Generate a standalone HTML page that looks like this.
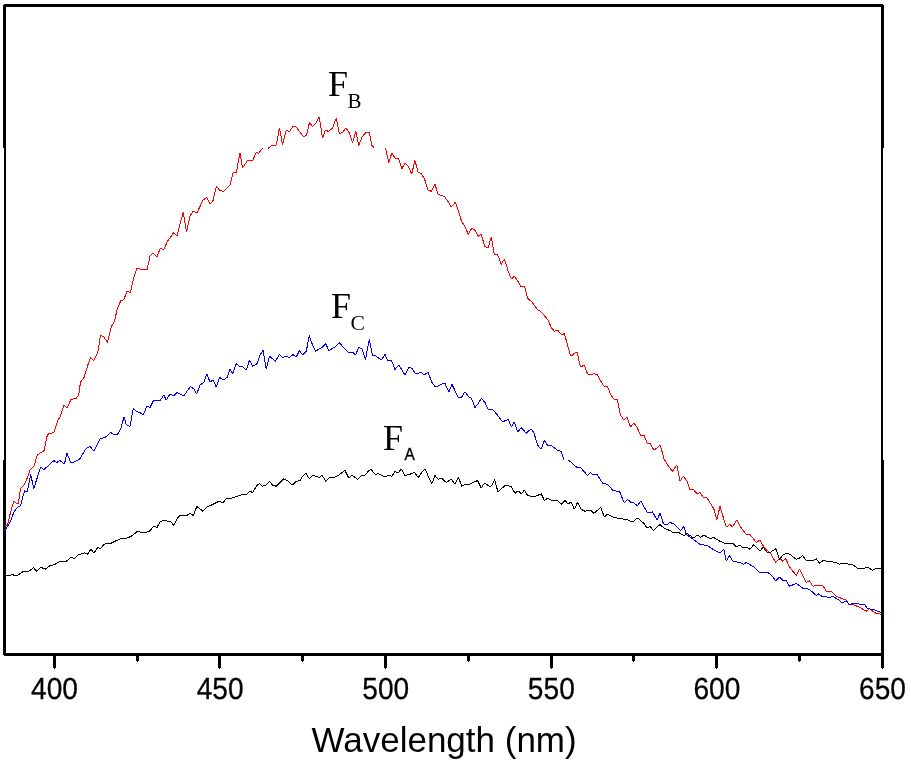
<!DOCTYPE html>
<html><head><meta charset="utf-8"><title>Spectrum</title>
<style>
html,body{margin:0;padding:0;background:#fff;}
body{width:911px;height:767px;overflow:hidden;}
svg{display:block;}
.tl{font-family:"Liberation Sans",Arial,sans-serif;font-size:30.5px;text-rendering:geometricPrecision;fill:#000;stroke:#000;stroke-width:0.3px;}
.ax{font-family:"Liberation Sans",Arial,sans-serif;font-size:35px;fill:#000;}
.F{font-family:"Liberation Serif","Times New Roman",serif;font-size:36px;fill:#000;}
.sub{font-family:"Liberation Serif","Times New Roman",serif;font-size:20px;fill:#000;}
.subA{font-family:"Liberation Sans",Arial,sans-serif;font-size:17px;fill:#000;stroke:#000;stroke-width:0.35px;}
</style></head>
<body>
<svg width="911" height="767" viewBox="0 0 911 767">
<rect width="911" height="767" fill="#fff"/>
<g fill="#000" shape-rendering="crispEdges">
<rect x="4" y="4" width="879" height="1"/><rect x="3" y="5" width="881" height="2"/>
<rect x="3" y="653" width="881" height="2"/><rect x="4" y="655" width="880" height="1"/>
<rect x="3" y="5" width="3" height="143"/>
<rect x="4" y="148" width="2" height="312"/>
<rect x="3" y="460" width="3" height="195"/>
<rect x="881" y="5" width="3" height="143"/>
<rect x="881" y="148" width="2" height="312"/>
<rect x="881" y="460" width="3" height="196"/>
<rect x="53" y="656" width="3" height="12"/><rect x="54" y="668" width="1" height="1"/>
<rect x="218" y="656" width="3" height="12"/><rect x="219" y="668" width="1" height="1"/>
<rect x="384" y="656" width="3" height="12"/><rect x="385" y="668" width="1" height="1"/>
<rect x="550" y="656" width="3" height="12"/><rect x="551" y="668" width="1" height="1"/>
<rect x="715" y="656" width="3" height="12"/><rect x="716" y="668" width="1" height="1"/>
<rect x="881" y="656" width="3" height="12"/><rect x="882" y="668" width="1" height="1"/>
<rect x="136" y="656" width="3" height="5"/><rect x="137" y="661" width="1" height="1"/>
<rect x="301" y="656" width="3" height="5"/><rect x="302" y="661" width="1" height="1"/>
<rect x="467" y="656" width="3" height="5"/><rect x="468" y="661" width="1" height="1"/>
<rect x="632" y="656" width="3" height="5"/><rect x="633" y="661" width="1" height="1"/>
<rect x="798" y="656" width="3" height="5"/><rect x="799" y="661" width="1" height="1"/>
</g>
<g shape-rendering="crispEdges" stroke-linejoin="bevel">
<polyline fill="none" stroke="#f00" stroke-width="1" points="4.5,526.3 7.5,525 10.5,512.5 13.8,501.3 16.3,503 18.3,503.8 20.5,488.8 24.5,484.3 27.5,477.5 30,470 33.8,466.5 37.3,455.3 40,453 44,450.7 47.5,434.3 53.7,432.5 58,420 60,417 63.8,405.3 67.2,407.7 71,399.5 76.3,398.3 78.8,394.5 80.5,382 83.8,378.3 88,364.5 90.5,357.5 93.8,360.8 98,351.5 100.5,335 103.8,337 107.5,342.5 111.3,327 114.5,320.8 117.5,308.3 120.8,300.8 123.8,299.5 127,291.5 130.3,292.5 133.8,278 137,268 141.3,269.3 147,270 150,256.3 153.3,253 157,257 160,248.8 163.8,249.3 167.5,241.3 173.8,232.5 177,236.3 180,223.8 183.3,212.5 186.5,232 190,216.3 193,211.3 197,213 203,200 206.8,197.5 210,204.3 213,200.5 216.3,186.3 220,190.5 223.8,191.3 230,185 233,173 236.3,172.5 240,153 242.5,168 247.5,160.5 253,160 256.3,152 258.8,153.3 262.5,148.3"/>
<polyline fill="none" stroke="#f00" stroke-width="1" points="268,148.3 272.5,145 276.3,145 279.5,128 282.5,144.5 286.3,130 289.3,132 292.5,127 295.5,126.3 299.5,131.3 303,136.3 306.3,135.8 309.5,122.5 312.5,126.3 316.3,122.5 319.3,117 322.5,138 325.3,130.5 328.8,131.3 332.5,128 336.3,118 339.3,133.8 342.5,132.5 345.8,128 349.5,133 352.5,143 355.8,131.3 358.8,145.5 362,137 365.5,133 369.3,132 371.8,145.5 373.8,147.5"/>
<polyline fill="none" stroke="#f00" stroke-width="1" points="385.5,148 388.8,162.5 391.8,153 395,158 398.3,158 401.8,168.8 405,163 408.3,166.3 411.8,174.3 414.8,160 418,171.8 421.3,173.8 424.5,178.8 428,190 431.3,191.3 435,184.5 438.3,194.5 444.3,196.3 447.5,200.8 451.3,207 455.5,202 458.8,212.5 461.3,220.5 465,227 468.3,234.5 471.8,228 475,230.5 478.3,236.3 481.3,233.8 484.5,246.3 488,248 491.3,237 494.3,254.5 497.5,254.5 501.3,264.3 504.5,258.8 508,270.8 511.3,279 514.4,276.3 518.3,281.8 520.8,287 524.5,286.3 527.5,298.3 531.3,301.3 538,310 541.3,312 548,320 551.3,327.5 554.5,331.3 557.5,330 561.3,334.5 564.5,333.8 567.5,345 570.8,356.3 573.8,353.8 577,352 580.5,367 584.3,365 587.5,373.8 590.5,375 593.8,373.8 597,374.3 600.8,381.3 604.3,386.8 607.5,386.3 610.8,395 614.3,399.5 617.5,400 620.5,415 623.8,420 627,416.8 630.5,427 633.8,423 637,427 640.5,435.5 643.8,435 647.5,443.8 650,443 653.8,450 657,448 660.3,445 663.8,458.4 667.5,465 672.5,471.3 676.8,465 680,481.3 683.3,476.3 687,481.3 690,489.5 693.8,490 697,493.8 700,492.5 703.8,498 706.8,497.5 713.8,508.8 716.8,520 720,506.3 723.3,517.5 726.3,527 730,524.5 732.5,527 736.8,520 740,526.3 746.3,534.5 750,534.5 756.3,542.5 760,540 763,545.5 766.3,550 770,552.5 775.8,562.5 780,558 782.5,561.3 785.8,558.8 789.5,567 796.3,575.5 799.5,569.3 803,576.3 806.3,582.5 809.3,580.8 813,586.3 816.3,585 822.5,585 826.3,591.3 831.3,591.3 836.3,596.3 842.5,598.8 846.3,600 849.3,605 852.5,604.3 860,607.5 866.3,611.3 869.5,608.8 875.5,613 881.3,614.3"/>
<polyline fill="none" stroke="#00f" stroke-width="1" points="4.5,531 7.5,526.4 10.5,521.3 14,511.7 17.5,507.5 20.6,505.5 24.5,490.7 27.2,492 30.7,474.5 33.8,488.5 37,478.5 40.7,467.1 44,469.5 47.5,466.3 53.8,460.6 57,462.5 59.8,460.3 64.4,464.1 67,453.3 70.5,462 73.8,462 79.8,458.9 86.3,448.2 90,446.4 94,451 100.4,438.4 105,437.6 110.6,432.5 114,434.5 117.5,434.5 120.5,429.5 124,417 126.3,424.5 130,426.5 133.3,408.3 136.3,411.5 140,412.5 143.3,415 147,405.8 150,407.5 153.8,400 160,400.8 163.8,395 166.3,400 170,394 173.8,395.8 177,392.5 183.8,395.8 190.5,386.5 193.8,389 196.8,394 200,385 203.8,382.5 206.8,374 210,382 213,380 216.3,387 219.7,377.5 223.5,380 227.2,377.3 230,369.5 232.5,373.8 236.3,363.8 239.5,366.3 242.5,366.3 246.3,370 249.5,360 252.5,366.3 257,363.8 260,355 263,350.5 266.3,369.3 269.5,356.3 275.5,361.3 279.3,354.5 282.5,357.5 286.3,356.3 289.5,357.5 293,354.5 296.3,357 299.5,350.5 302.5,355 306.3,351.3 309.3,335.5 312.5,345 315.5,351.3 322.5,347 325.8,343.8 328.8,350.5 335,347 339.3,342.5 342.5,346.3 348.8,353 352.5,352 355.5,355 358.8,347.5 362,348.8 365.5,359.5 369.3,339.3 372.5,355 375.5,355.8 381.3,360 385,354.5 388,360.8 391.3,360 395,369.5 398.8,365 405,375 408.8,367.5 412,368.3 415.5,373.8 421.3,372.5 423.8,375 428,372.5 432,382.5 435.5,387 442.5,383.8 445,383.3 448.8,392 452,384.3 458,397 461.3,397.5 465,391.8 468.8,397 471.3,398 475,407.5 477.5,404.5 481.3,398.3 485,402.5 488,409.3 492.5,409.5 497.5,415 502.5,421.8 508.3,419.5 511.3,427 514.3,422 517.8,432.3 521.3,427.5 526.3,433.3 531,428.8 534,433 537.5,445 541,449.3 544.4,440.5 547.5,445.3 551.3,445.5 557.7,450.3 561.3,451.3 563.8,459.6"/>
<polyline fill="none" stroke="#00f" stroke-width="1" points="568.2,460 570.8,461.8 576.3,467 580.5,467.5 587.5,475.5 590.8,472.5 593,475 597,474.5 602.5,483 607.5,484.3 613.3,490.8 619.5,491.3 624.3,503 627.5,499.5 631.3,502.5 633.8,503 637.5,505.8 640.8,500.8 647.5,513 652.5,511.8 657,520 660,513.2 663.5,524 667.5,524.2 670,522.5 673.8,523.8 680.8,530.5 683.8,526.3 686.3,534.5 692.5,538.8 700,544.5 707.5,545.5 713.8,550 720,553 723.8,549.3 726.3,561.3 729.5,555.5 733,561.3 740,562.5 743.8,564.3 746.3,562.5 753.8,567 760,573 767.5,572 772.5,576.3 775.8,580.8 779.5,577 782.5,580 786.3,580.8 789.5,586.3 796.3,583.3 802.5,588 809.3,589.3 816.3,595.5 818.8,593.8 822.5,597 826.3,596.3 828.8,598 832.5,596.3 838.8,600 842.5,603 846.3,600.8 849.3,604.3 856.3,603 860,604.3 865,605 867.5,608.8 873.8,609.3 877.5,611.3 881.3,612.5"/>
<polyline fill="none" stroke="#000" stroke-width="1" points="4.5,575.4 12.7,574.9 17.3,575.5 23.6,571.4 27.5,572 33.6,567.8 36.8,571.3 40.8,567.2 45.3,569.3 50.4,565.3 54.3,564.9 59.2,561.7 66.4,561.2 71.1,557 74.3,559 78.5,554.7 84.3,552.9 88,554.2 90.9,549 93.8,553.2 97.7,547.4 100.2,549 103.8,544.5 107,543.2 110,543.8 115,541.3 120.3,538.8 127.5,538 132.5,535.5 137.5,531.3 141.3,532.5 148.8,531.8 153.8,526.3 157,527.5 160,522 163.8,520 167.5,521.3 170.5,521.3 173.8,525.5 177.5,518 180.8,515 186.3,515.8 190.5,513.3 193.3,515.8 196.8,506.3 203,511.3 206.3,507.5 212.5,504.5 218.8,501.3 223.2,502.5 226.3,498.5 232.5,498 241.3,495 246.3,494.5 250,491.3 252.5,492.5 256.3,486.3 259.5,483.3 262.5,486.3 266.3,485 269.5,481.3 272.5,485 276.3,486.3 283.8,478.8 287.5,480.8 292.5,485 296.3,481.3 300,480.8 302.5,476.3 305.8,473 309.3,478.8 312.5,475.5 316.3,476.3 319.3,477.5 322,475 325.8,481.3 329.3,477.5 335,477 338.8,475 345,470.5 348.8,478 352,475 357.5,479.3 361.3,475.5 365,475 368.8,470.8 371.3,469.5 375,474.3 378.8,473.8 385,477 388.8,475 391.8,476.3 395,471.3 398,473 401.3,468.8 405,475.5 411.3,473.8 414.5,472.5 418.3,477.5 422,472 425,468.8 428.3,476.3 431.8,483.8 435,475.5 438.3,479.5 441,477.8 446.3,482.5 451.3,479.3 455,484.3 458.3,477 461.8,486.3 465,484.5 468,485 477.5,480.5 481.3,488 484.5,483 489.3,486.3 491.8,485.8 494.5,479.5 498,492 505,485.5 510.8,486.3 515,493.3 518,490.8 521.3,493.8 524.5,490 527.5,495.5 533.8,497 541.3,493.8 544.3,500.5 547.5,498.3 551.3,500 557.5,500.5 561.3,504.3 565,500.5 568,503.8 571.3,502 574.3,509.3 577.5,502.5 581.3,509.3 585,511.3 590.8,510 593.8,513.3 600.8,507.5 604.3,517 607.5,514.3 612.5,516.8 620,518.8 626.3,519.3 632.5,522 637.5,518 643.8,523.3 647,528 650,526.3 653.3,530.5 660,524.4 664.4,528.6 670,530.5 673.8,533 678.8,532.5 683.8,535.5 687.5,533.8 693.8,538 697.5,535 700.5,537.5 703.8,535 710,538.8 713.8,537.5 720,541.3 726.3,543.8 732.5,543 736.3,547 740,545 743.3,548 746.8,547.5 750,549.3 753.8,544.5 760,551.3 763.3,547 766.3,551.8 770,552.5 775.8,548.8 779.5,559.5 782.5,555.5 786.3,553.3 790,554.3 796.3,559.5 799.5,558 802.5,555.5 805.8,560 812.5,560.8 816.3,558.8 819.5,563.3 823,560.5 832.5,562 836.3,562.5 839.5,564.3 842.5,563.3 852.5,564.5 857.5,568.3 863.8,568.3 868.3,567.5 872.5,570.5 876.3,568.3 881.3,568"/>
</g>
<g opacity="0.999">
<text transform="translate(54.5,699) scale(0.922,1)" text-anchor="middle" class="tl">400</text>
<text transform="translate(220.1,699) scale(0.922,1)" text-anchor="middle" class="tl">450</text>
<text transform="translate(385.7,699) scale(0.922,1)" text-anchor="middle" class="tl">500</text>
<text transform="translate(551.3,699) scale(0.922,1)" text-anchor="middle" class="tl">550</text>
<text transform="translate(716.9,699) scale(0.922,1)" text-anchor="middle" class="tl">600</text>
<text transform="translate(882.5,699) scale(0.922,1)" text-anchor="middle" class="tl">650</text>
<text x="311.5" y="752" class="ax">Wavelength (nm)</text>
<text x="328" y="96" class="F">F</text><text transform="translate(347.4,108) scale(1.05,1)" class="sub">B</text>
<text x="331" y="318" class="F">F</text><text transform="translate(350.6,330) scale(1.08,1)" class="sub">C</text>
<text x="383" y="450" class="F">F</text><text transform="translate(404.6,460) scale(0.91,1)" class="subA">A</text>
</g>
</svg>
</body></html>
